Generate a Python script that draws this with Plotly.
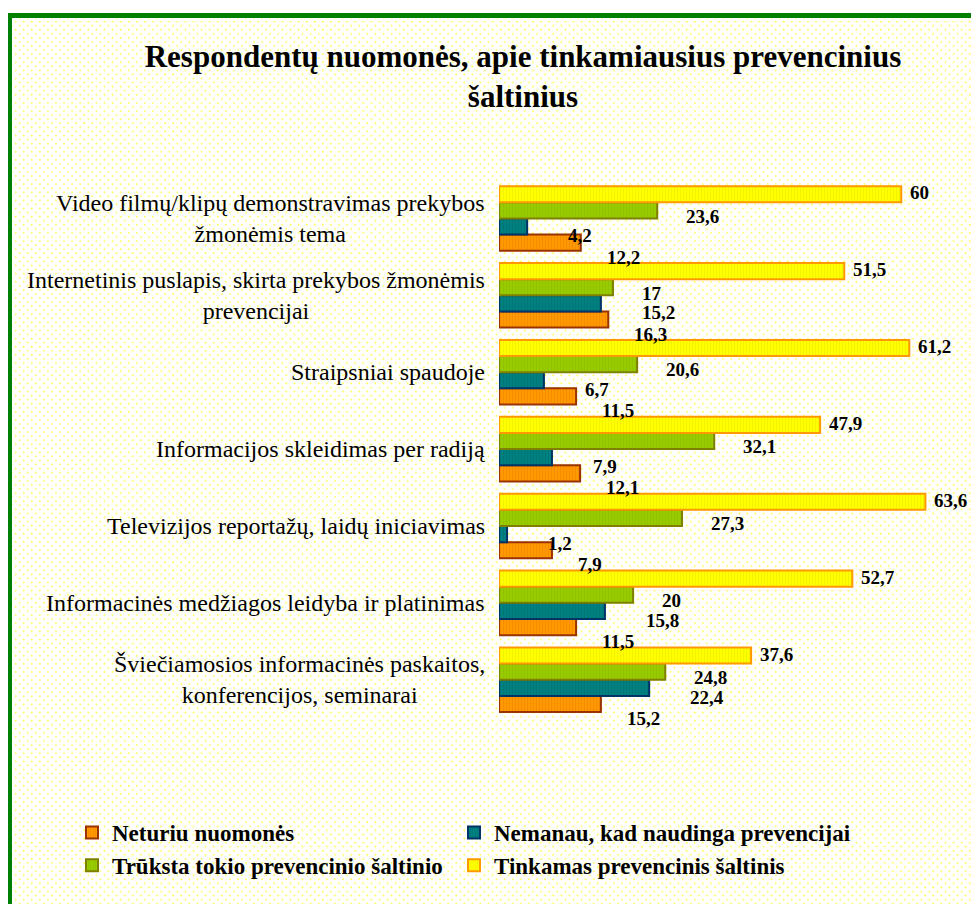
import base64
import plotly.graph_objects as go

categories = [
    "Video filmų/klipų demonstravimas prekybos<br>žmonėmis tema",
    "Internetinis puslapis, skirta prekybos žmonėmis<br>prevencijai",
    "Straipsniai spaudoje",
    "Informacijos skleidimas per radiją",
    "Televizijos reportažų, laidų iniciavimas",
    "Informacinės medžiagos leidyba ir platinimas",
    "Šviečiamosios informacinės paskaitos,<br>konferencijos, seminarai",
]
neturiu = [12.2, 16.3, 11.5, 12.1, 7.9, 11.5, 15.2]
nemanau = [4.2, 15.2, 6.7, 7.9, 1.2, 15.8, 22.4]
truksta = [23.6, 17, 20.6, 32.1, 27.3, 20, 24.8]
tinkamas = [60, 51.5, 61.2, 47.9, 63.6, 52.7, 37.6]

series_names = [
    "Neturiu nuomonės",
    "Nemanau, kad naudinga prevencijai",
    "Trūksta tokio prevencinio šaltinio",
    "Tinkamas prevencinis šaltinis",
]
series_values = [neturiu, nemanau, truksta, tinkamas]
title_text = "Respondentų nuomonės, apie tinkamiausius prevencinius<br>šaltinius"

# styles
fills = ["#FF9900", "#008080", "#99CC00", "#FFFF00"]
stripes = ["#F08000", "#006E6E", "#88B800", "#E8E800"]
borders = ["#993300", "#003366", "#808000", "#FF9900"]
legend_ids = ["legend", "legend2", "legend", "legend2"]
label_dx = [25, 40, 28, 8]
label_dy = [-14, -9, -6, 1]

OFF = 8  # page body margin
W, H = 979 - OFF, 904 - OFF
ML, MR, MT = 499 - OFF, 4, 180 - OFF
MB = H - (730 - OFF)
PW, PH = W - ML - MR, H - MT - MB
BARGAP = 0.16
XMAX = 71
SERIF = "Liberation Serif"

fig = go.Figure()
for name, vals, fc, sc, bc, lg in zip(series_names, series_values, fills, stripes,
                                      borders, legend_ids):
    fig.add_trace(go.Bar(
        y=categories, x=vals, name=name, orientation="h", legend=lg,
        marker=dict(color=fc, line=dict(color=bc, width=2),
                    pattern=dict(shape="|", fillmode="overlay", fgcolor=sc,
                                 size=3, solidity=0.35)),
        hoverinfo="x+name",
    ))

# value labels
cat_px = PH / len(categories)
bar_px = cat_px * (1 - BARGAP) / len(series_names)
annotations = []
for k, (vals, dx, dy) in enumerate(zip(series_values, label_dx, label_dy)):
    offset = (k - (len(series_names) - 1) / 2) * bar_px
    for cat, v in zip(categories, vals):
        annotations.append(dict(
            x=v, y=cat, xref="x", yref="y", xanchor="left", yanchor="middle",
            text=f"{v:g}".replace(".", ","), showarrow=False,
            xshift=dx, yshift=offset + dy, borderpad=0,
            font=dict(family=SERIF, size=19, color="#000000", weight="bold"),
        ))

# category labels (centered multi-line, right-anchored)
for cat in categories:
    annotations.append(dict(
        x=0, y=cat, xref="paper", yref="y", xanchor="right", yanchor="middle",
        align="center", text=cat, showarrow=False, xshift=-12,
        font=dict(family=SERIF, size=24, color="#000000"),
    ))


def px2x(px):
    return (px - OFF - ML) / PW


def py2y(py):
    return (H - MB - (py - OFF)) / PH


# dotted background as svg pattern
svg = (
    '<svg xmlns="http://www.w3.org/2000/svg" width="980" height="900">'
    '<defs><pattern id="p" width="8" height="8" patternUnits="userSpaceOnUse">'
    '<circle cx="2" cy="2" r="0.9" fill="#ffff40"/>'
    '<circle cx="6" cy="6" r="0.9" fill="#ffff40"/>'
    '</pattern></defs>'
    '<rect width="100%" height="100%" fill="#ffffff"/>'
    '<rect width="100%" height="100%" fill="url(#p)"/></svg>'
)
src = "data:image/svg+xml;base64," + base64.b64encode(svg.encode()).decode()

legend_font = dict(family=SERIF, size=23, color="#000000", weight="bold")
fx0, fy0, fx1, fy1 = 9.5, 15.5, 1000, 930
fig.update_layout(
    width=W, height=H,
    margin=dict(l=ML, r=MR, t=MT, b=MB, pad=0),
    paper_bgcolor="#ffffff",
    plot_bgcolor="rgba(0,0,0,0)",
    barmode="group", bargap=BARGAP, bargroupgap=0,
    title=dict(text=title_text, x=(523 - OFF) / W, xanchor="center", xref="container",
               y=1 - (67 - OFF) / H, yanchor="top", yref="container",
               font=dict(family=SERIF, size=31, color="#000000", weight="bold")),
    xaxis=dict(range=[0, XMAX], showgrid=False, zeroline=False, showticklabels=False,
               showline=False, ticks=""),
    yaxis=dict(categoryorder="array", categoryarray=categories[::-1], showgrid=False,
               zeroline=False, showticklabels=False, showline=False, ticks=""),
    legend=dict(orientation="v", x=px2x(72), xanchor="left", y=py2y(811), yanchor="top",
                traceorder="normal", bgcolor="rgba(0,0,0,0)", font=legend_font),
    legend2=dict(orientation="v", x=px2x(454), xanchor="left", y=py2y(811), yanchor="top",
                 traceorder="normal", bgcolor="rgba(0,0,0,0)", font=legend_font),
    annotations=annotations,
    images=[dict(source=src, xref="paper", yref="paper", x=px2x(fx0), y=py2y(fy0),
                 sizex=(fx1 - fx0) / PW, sizey=(fy1 - fy0) / PH, sizing="stretch",
                 layer="below", xanchor="left", yanchor="top")],
    shapes=[dict(type="rect", xref="paper", yref="paper", x0=px2x(fx0), x1=px2x(fx1),
                 y0=py2y(fy1), y1=py2y(fy0), line=dict(color="#008000", width=5),
                 fillcolor="rgba(0,0,0,0)", layer="above")],
    showlegend=True,
)

fig.write_html("out.html")
